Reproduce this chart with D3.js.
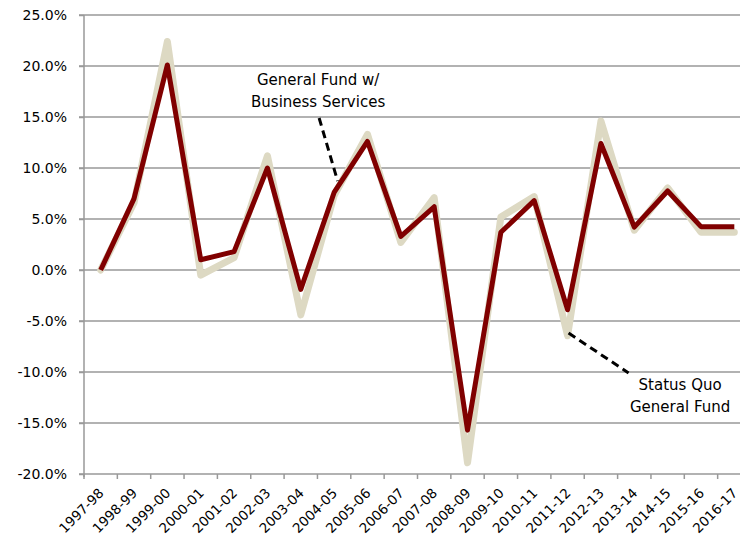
<!DOCTYPE html>
<html>
<head>
<meta charset="utf-8">
<script src="https://cdn.jsdelivr.net/npm/d3@7"></script>
<style>
  html, body { margin: 0; padding: 0; background: #fff; }
  svg { display: block; }
  text { font-family: "DejaVu Sans", Verdana, sans-serif; fill: #000; }
</style>
</head>
<body>
<svg id="chart" width="740" height="542"></svg>
<script>
const categories = ["1997-98","1998-99","1999-00","2000-01","2001-02","2002-03","2003-04","2004-05","2005-06","2006-07","2007-08","2008-09","2009-10","2010-11","2011-12","2012-13","2013-14","2014-15","2015-16","2016-17"];
const statusQuo = [0.0, 6.6, 22.4, -0.5, 1.2, 11.2, -4.4, 7.3, 13.3, 2.7, 7.1, -18.9, 5.2, 7.2, -6.45, 14.6, 3.9, 8.05, 3.7, 3.7];
const businessServices = [0.0, 7.0, 20.1, 1.0, 1.8, 10.0, -1.9, 7.6, 12.6, 3.3, 6.2, -15.7, 3.7, 6.8, -3.9, 12.4, 4.2, 7.75, 4.25, 4.25];
const yTicks = [25, 20, 15, 10, 5, 0, -5, -10, -15, -20];

const svg = d3.select("#chart");
const mLeft = 84, mRight = 751, mTop = 15, mBottom = 474;

const x = d3.scaleBand().domain(categories).range([mLeft, mRight]).padding(0);
const y = d3.scaleLinear().domain([-20, 25]).range([mBottom, mTop]);
const cx = d => x(d) + x.bandwidth() / 2;

// gridlines
svg.append("g").selectAll("line").data(yTicks.filter(t => t !== -20)).join("line")
  .attr("x1", mLeft - 5).attr("x2", 740)
  .attr("y1", d => y(d)).attr("y2", d => y(d))
  .attr("stroke", "#999").attr("stroke-width", 1.5);

// y axis
const yAxis = d3.axisLeft(y).tickValues(yTicks).tickSize(5).tickPadding(12)
  .tickFormat(d => d.toFixed(1) + "%");
const gy = svg.append("g").attr("transform", `translate(${mLeft},0)`).call(yAxis);
gy.select(".domain").attr("stroke", "#999").attr("stroke-width", 1.5)
  .attr("d", `M0,${mTop}V${mBottom + 3}`);
gy.selectAll(".tick line").attr("stroke", "#999").attr("stroke-width", 1.5);
gy.selectAll(".tick text").style("font-family", "DejaVu Sans").style("font-size", "14px").attr("fill", "#000");

// x axis line
svg.append("line").attr("x1", mLeft - 5).attr("x2", 740).attr("y1", mBottom).attr("y2", mBottom)
  .attr("stroke", "#999").attr("stroke-width", 1.5);
// x ticks at band boundaries
const bounds = categories.map(c => x(c)).concat([x(categories[categories.length - 1]) + x.bandwidth()]);
svg.append("g").selectAll("line").data(bounds).join("line")
  .attr("x1", d => d).attr("x2", d => d).attr("y1", mBottom).attr("y2", mBottom + 5)
  .attr("stroke", "#999").attr("stroke-width", 1.5);
// x labels
svg.append("g").selectAll("text").data(categories).join("text")
  .attr("transform", d => `translate(${cx(d) + 4},${mBottom + 20}) rotate(-45)`)
  .attr("text-anchor", "end")
  .style("font-size", "13.5px")
  .text(d => d);

// lines
const line = d3.line().x((d, i) => cx(categories[i])).y(d => y(d));
svg.append("path").datum(statusQuo).attr("d", line)
  .attr("fill", "none").attr("stroke", "#DDD9C3").attr("stroke-width", 7)
  .attr("stroke-linejoin", "round").attr("stroke-linecap", "round");
svg.append("path").datum(businessServices).attr("d", line)
  .attr("fill", "none").attr("stroke", "#800000").attr("stroke-width", 5)
  .attr("stroke-linejoin", "round").attr("stroke-linecap", "butt");

// annotations
const annotations = [
  { lines: ["General Fund w/", "Business Services"], tx: cx("2004-05") - 16, ty: 85,
    x1: cx("2004-05") - 15, y1: 118, x2: cx("2004-05") + 3.5, y2: 181 },
  { lines: ["Status Quo", "General Fund"], tx: cx("2014-15") + 12.5, ty: 390,
    x1: cx("2011-12") + 1, y1: 333, x2: cx("2011-12") + 61, y2: 373 }
];
annotations.forEach(a => {
  svg.append("line").attr("x1", a.x1).attr("y1", a.y1).attr("x2", a.x2).attr("y2", a.y2)
    .attr("stroke", "#000").attr("stroke-width", 3).attr("stroke-dasharray", "8,5");
  const t = svg.append("text").attr("text-anchor", "middle").style("font-size", "15px");
  a.lines.forEach((l, i) => {
    t.append("tspan").attr("x", a.tx).attr("y", a.ty + i * 21.5).text(l);
  });
});
</script>
</body>
</html>
